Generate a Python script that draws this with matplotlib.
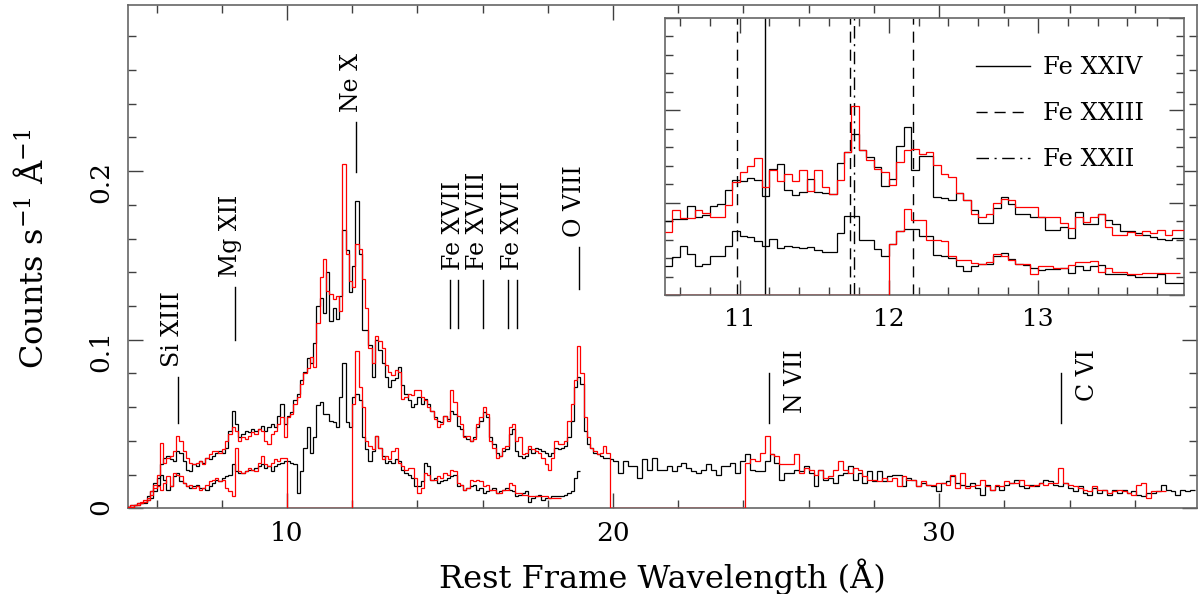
import numpy as np
import matplotlib
matplotlib.use('Agg')
import matplotlib.pyplot as plt
from matplotlib.ticker import MultipleLocator, FixedLocator, FuncFormatter
from matplotlib.lines import Line2D

plt.rcParams['font.family'] = ['DejaVu Serif']
plt.rcParams['mathtext.fontset'] = 'dejavuserif'

# wavelength binning (Angstrom)
start_a, width_a = 5.1, 0.1      # below 20 A
start_b, width_b = 20.0, 0.15    # above 20 A
inset_start, inset_width = 10.5, 0.05

# count rates, units of 1e-3 counts s^-1 A^-1
# upper spectra (MEG), black and red epochs, 5.1-20 A
black_meg_a = [1, 2, 2, 3, 3, 4, 7, 10, 15, 18,
               26, 30, 31, 29, 28, 34, 33, 28, 23, 22,
               26, 25, 28, 27, 30, 29, 31, 33, 34, 33,
               36, 46, 58, 50, 42, 44, 46, 45, 47, 46,
               47, 49, 46, 48, 50, 48, 55, 62, 50, 55,
               57, 64, 68, 76, 81, 89, 86, 98, 120, 125,
               116, 140, 111, 119, 112, 126, 165, 153, 128, 144,
               182, 151, 106, 106, 97, 78, 100, 94, 86, 78,
               72, 76, 77, 84, 73, 68, 64, 60, 62, 66,
               62, 65, 62, 58, 54, 52, 51, 55, 53, 58,
               56, 49, 47, 43, 41, 40, 42, 48, 52, 57,
               54, 42, 38, 33, 31, 34, 35, 44, 47, 34,
               31, 30, 31, 35, 33, 36, 35, 34, 33, 31,
               33, 36, 35, 36, 37, 42, 52, 72, 78, 74,
               46, 38, 36, 33, 32, 31, 30, 30, 29]
red_meg_a = [1, 2, 2, 3, 4, 5, 6, 10, 14, 20,
             39, 27, 30, 31, 34, 43, 40, 34, 30, 27,
             26, 27, 28, 26, 30, 32, 34, 34, 33, 35,
             40, 44, 48, 46, 40, 42, 41, 43, 45, 44,
             47, 46, 40, 38, 44, 46, 50, 54, 42, 54,
             56, 62, 66, 74, 80, 83, 90, 84, 110, 137,
             148, 129, 127, 124, 126, 117, 204, 151, 135, 131,
             157, 154, 136, 119, 95, 86, 102, 99, 95, 85,
             81, 79, 82, 81, 65, 66, 68, 67, 70, 70,
             66, 64, 60, 58, 53, 48, 50, 55, 52, 70,
             63, 55, 50, 42, 43, 40, 41, 50, 54, 60,
             56, 40, 36, 30, 31, 36, 37, 48, 50, 40,
             42, 32, 33, 37, 35, 34, 33, 30, 26, 23,
             30, 40, 38, 38, 40, 52, 62, 76, 96, 80,
             54, 42, 36, 34, 32, 33, 37, 33, 0]
# upper spectra above 20 A
black_meg_b = [28, 21, 28, 25, 25, 18, 29, 23, 30, 23,
               23, 25, 22, 25, 27, 24, 22, 21, 23, 26,
               23, 20, 25, 25, 27, 21, 28, 32, 23, 22,
               22, 28, 32, 27, 17, 21, 21, 23, 22, 25,
               21, 13, 23, 17, 18, 15, 20, 21, 25, 17,
               21, 15, 22, 16, 22, 16, 19, 20, 20, 13,
               18, 17, 13, 15, 14, 13, 10, 15, 16, 19,
               15, 14, 13, 15, 12, 8, 14, 11, 13, 11,
               14, 15, 17, 13, 12, 14, 13, 15, 17, 16,
               14, 13, 15, 12, 10, 13, 9, 8, 12, 9,
               11, 8, 11, 9, 11, 9, 10, 8, 7, 9,
               9, 10, 14, 11, 10, 8, 11, 10, 11]
red_meg_b = [0] * 27 + [27, 29, 28,
             33, 43, 32, 31, 26, 26, 26, 32, 21, 24,
             23, 20, 23, 18, 19, 23, 28, 23, 21, 24,
             23, 19, 17, 17, 16, 18, 16, 18, 13, 19,
             17, 17, 13, 16, 14, 14, 15, 15, 14, 20,
             12, 21, 12, 13, 14, 17, 13, 11, 14, 13,
             16, 15, 15, 17, 14, 13, 14, 15, 14, 15,
             15, 24, 15, 14, 13, 12, 11, 10, 13, 11,
             11, 9, 10, 11, 10, 9, 8, 14, 15, 6,
             10, 10, 10]
# lower spectra (HEG), from 5.1 A
black_heg = [1, 1, 2, 2, 3, 3, 5, 6, 10, 14,
             20, 17, 11, 13, 19, 21, 16, 15, 13, 12,
             13, 14, 12, 12, 11, 13, 15, 17, 16, 18,
             19, 20, 26, 22, 21, 21, 22, 23, 23, 24,
             25, 26, 24, 25, 22, 25, 26, 27, 28, 28,
             27, 26, 9, 22, 36, 48, 33, 42, 61, 63,
             56, 56, 52, 51, 48, 66, 86, 51, 48, 66,
             68, 64, 42, 35, 28, 34, 43, 36, 31, 27,
             28, 27, 29, 28, 23, 21, 20, 18, 13, 13,
             16, 27, 25, 17, 18, 15, 16, 17, 18, 19,
             20, 13, 14, 11, 12, 13, 14, 11, 12, 9,
             10, 11, 12, 9, 10, 11, 12, 11, 10, 7,
             8, 9, 10, 4, 6, 7, 8, 5, 6, 6,
             7, 7, 7, 7, 8, 9, 10, 18, 22]
red_heg = [1, 1, 2, 2, 3, 4, 5, 8, 12, 13,
           11, 15, 19, 13, 21, 20, 19, 15, 13, 14,
           12, 13, 11, 12, 14, 16, 17, 18, 16, 17,
           12, 10, 7, 36, 22, 21, 22, 24, 23, 22,
           27, 31, 26, 25, 27, 29, 28, 30, 30] + [0] * 20 + [
           62, 93, 72, 60, 40, 37, 35, 43, 36, 29, 31,
           29, 34, 36, 27, 25, 23, 24, 24, 18, 9,
           12, 21, 20, 17, 17, 19, 18, 21, 20, 23,
           22, 15, 14, 11, 12, 17, 16, 17, 16, 13,
           14, 11, 11, 9, 9, 11, 11, 15, 14, 9,
           9, 8, 8, 7, 7, 7, 7, 7, 7, 6,
           6, 6, 6]

# inset, 10.5-14 A at 0.05 A
inset_black_meg = [80, 82, 82, 96, 85, 87, 96, 99, 114, 125,
                   123, 127, 125, 107, 137, 142, 114, 108, 112, 126,
                   112, 111, 109, 143, 155, 174, 157, 149, 139, 118,
                   126, 161, 182, 135, 151, 151, 106, 105, 103, 110,
                   103, 92, 78, 78, 94, 106, 99, 88, 88, 85,
                   85, 70, 70, 74, 62, 90, 77, 77, 88, 81,
                   77, 69, 69, 67, 65, 63, 61, 60, 62, 62]
inset_red_meg = [68, 92, 83, 83, 92, 89, 84, 84, 98, 122,
                 133, 140, 148, 117, 135, 123, 131, 123, 135, 113,
                 135, 117, 109, 125, 155, 205, 157, 146, 137, 133,
                 119, 144, 157, 158, 153, 155, 141, 131, 128, 110,
                 103, 88, 85, 88, 100, 104, 103, 95, 95, 95,
                 85, 85, 85, 78, 73, 85, 79, 85, 88, 74,
                 65, 65, 68, 65, 69, 67, 70, 65, 70, 70]
inset_black_heg = [31, 41, 53, 44, 31, 34, 42, 42, 53, 69,
                   64, 63, 59, 53, 61, 51, 53, 52, 51, 52,
                   49, 47, 47, 67, 86, 86, 60, 60, 50, 42,
                   55, 69, 71, 71, 64, 64, 43, 42, 40, 31,
                   26, 31, 34, 34, 42, 45, 39, 34, 33, 29,
                   27, 28, 28, 29, 24, 31, 27, 31, 33, 23,
                   23, 23, 22, 19, 20, 20, 23, 13, 13, 13]
inset_red_heg = [0] * 30 + [
                 55, 69, 93, 81, 81, 60, 60, 59, 42, 38,
                 38, 35, 34, 36, 44, 42, 38, 34, 34, 23,
                 31, 31, 29, 29, 33, 36, 36, 37, 25, 29,
                 25, 25, 23, 23, 24, 24, 24, 24, 24]

# line identifications in the main panel
line_ids = ['Si XIII', 'Mg XII', 'Ne X', 'Fe XVII', 'Fe XVIII', 'Fe XVII', 'O VIII']
line_waves = [[6.65], [8.42], [12.13], [15.01, 15.26], [16.0], [16.78, 17.07], [18.97]]
line_lo = [0.0506, 0.0999, 0.1994, 0.1069, 0.1069, 0.1069, 0.1301]
line_hi = [0.0778, 0.1313, 0.2290, 0.1354, 0.1354, 0.1354, 0.1548]
side_ids = ['N VII', 'C VI']
side_waves = [24.78, 33.74]

# iron lines in the inset
fe_ids = ['Fe XXIV', 'Fe XXIII', 'Fe XXII']
fe_waves = [[11.17], [10.98, 11.74, 12.16], [11.77]]
fe_styles = ['-', (0, (8, 5)), (0, (9, 4, 1.5, 4))]


def edges_for(n, start, width):
    return start + width * np.arange(n + 1)


def draw_steps(ax, vals, edges, color):
    ax.stairs(np.asarray(vals, float) / 1000.0, edges, color=color,
              lw=0.9, baseline=None, zorder=2.6)


fig = plt.figure(figsize=(12, 5.94), dpi=100)
ax = fig.add_axes([127.5 / 1200, 1 - 508.3 / 594, 1069.5 / 1200, 503.3 / 594])

ea = edges_for(len(black_meg_a), start_a, width_a)
eb_black = edges_for(len(black_meg_b), start_b, width_b)
eb_red = edges_for(len(red_meg_b), start_b, width_b)

draw_steps(ax, black_meg_a + black_meg_b, np.concatenate([ea, eb_black[1:]]), 'black')
draw_steps(ax, black_heg, edges_for(len(black_heg), start_a, width_a), 'black')
draw_steps(ax, red_meg_a + red_meg_b, np.concatenate([ea, eb_red[1:]]), 'red')
draw_steps(ax, red_heg, edges_for(len(red_heg), start_a, width_a), 'red')

for name, waves, lo, hi in zip(line_ids, line_waves, line_lo, line_hi):
    for w in waves:
        ax.plot([w, w], [lo, hi], color='k', lw=1)
    ax.text(max(waves) + 0.05, hi + 0.006, name, rotation=90,
            rotation_mode='anchor', ha='left', va='baseline', fontsize=17)
for name, w in zip(side_ids, side_waves):
    ax.plot([w, w], [0.0504, 0.0800], color='k', lw=1)
    ax.text(w + 1.02, 0.0945, name, rotation=90, rotation_mode='anchor',
            ha='right', va='baseline', fontsize=17)

ax.set_xlim(5.11, 37.91)
ax.set_ylim(0, 0.2985)
ax.xaxis.set_major_locator(MultipleLocator(10))
ax.xaxis.set_minor_locator(MultipleLocator(2))
ax.yaxis.set_major_locator(MultipleLocator(0.1))
ax.yaxis.set_minor_locator(MultipleLocator(0.02))
ax.yaxis.set_major_formatter(FuncFormatter(lambda v, p: '%g' % round(v, 3)))
ax.tick_params(which='both', direction='in', top=True, right=True,
               color='0.25', width=1)
ax.tick_params(which='major', length=10.8, labelsize=19)
ax.tick_params(which='minor', length=5.5)
ax.tick_params(axis='x', pad=9.5)
ax.tick_params(axis='y', pad=10.4, labelrotation=90)
for s in ax.spines.values():
    s.set_color('0.4')
    s.set_linewidth(1.2)
ax.set_xlabel('Rest Frame Wavelength (Å)', fontsize=23)
ax.set_ylabel('Counts s$^{-1}$ Å$^{-1}$', fontsize=23)
ax.xaxis.set_label_coords(0.5, -0.10)
ax.yaxis.set_label_coords(-0.0725, 0.516)

# inset
axi = fig.add_axes([665 / 1200, 1 - 295 / 594, 519 / 1200, 277 / 594])
axi.set_facecolor('white')
ei = edges_for(len(inset_black_meg), inset_start, inset_width)
draw_steps(axi, inset_black_meg, ei, 'black')
draw_steps(axi, inset_black_heg, ei, 'black')
draw_steps(axi, inset_red_meg, ei, 'red')
draw_steps(axi, inset_red_heg, edges_for(len(inset_red_heg), inset_start, inset_width), 'red')

handles = []
for name, waves, ls in zip(fe_ids, fe_waves, fe_styles):
    for w in waves:
        axi.axvline(w, color='k', lw=1, ls=ls)
    handles.append(Line2D([], [], color='k', lw=1, ls=ls, label=name))
axi.legend(handles=handles, loc='upper left', bbox_to_anchor=(0.60, 0.862),
           frameon=False, fontsize=17.5, handlelength=2.2, handletextpad=0.55,
           labelspacing=0.95, borderpad=0, borderaxespad=0)

axi.set_xlim(10.5, 13.98)
axi.set_ylim(0, 0.3)
axi.xaxis.set_major_locator(FixedLocator([11, 12, 13]))
axi.xaxis.set_minor_locator(MultipleLocator(0.2))
axi.yaxis.set_major_locator(MultipleLocator(0.1))
axi.yaxis.set_minor_locator(MultipleLocator(0.02))
axi.tick_params(which='both', direction='in', top=True, right=True,
                color='0.25', width=1, labelleft=False)
axi.tick_params(which='major', length=10.8, labelsize=18, pad=9.5)
axi.tick_params(which='minor', length=5.5)
for s in axi.spines.values():
    s.set_color('0.4')
    s.set_linewidth(1.2)

fig.savefig('out.png', dpi=100)
